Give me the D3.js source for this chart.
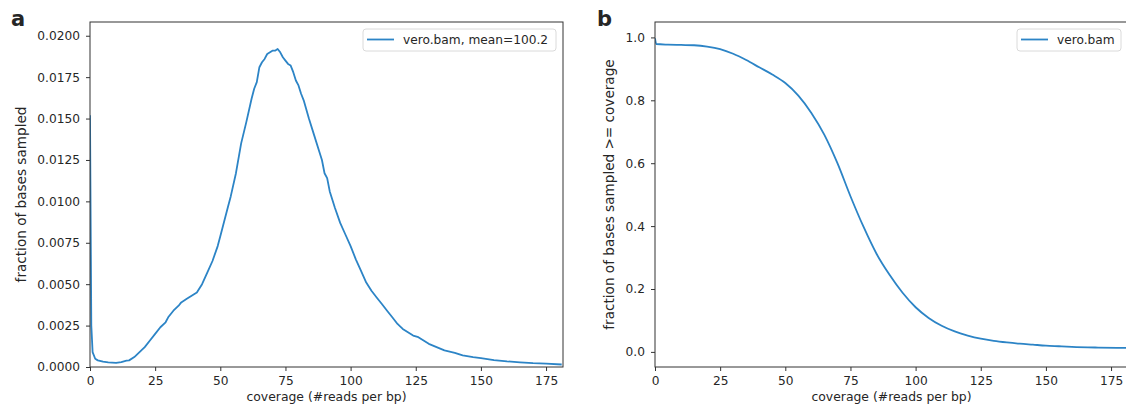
<!DOCTYPE html>
<html>
<head>
<meta charset="utf-8">
<script src="https://cdn.jsdelivr.net/npm/d3@7"></script>
<style>
  body { margin: 0; background: #fff; }
  text { font-family: "DejaVu Sans", sans-serif; fill: #262626; }
</style>
</head>
<body>
<svg id="chart" width="1126" height="408"></svg>
<script>
// panel a: coverage histogram
const covA = [0, 0.5, 1, 2, 3, 5, 7, 10, 12, 14, 15, 17, 19, 21, 23, 25, 27, 29, 30, 32, 34, 35, 37, 39, 41, 43, 45, 47, 49, 50, 51, 52, 53, 54, 56, 58, 60, 62, 63, 64, 65, 66, 67, 68, 70, 71, 72, 73, 74, 75, 76, 77, 78, 79, 80, 81, 82, 84, 86, 88, 89, 90, 91, 92, 94, 96, 98, 100, 102, 104, 106, 108, 110, 112, 114, 116, 118, 120, 122, 124, 126, 128, 130, 133, 136, 140, 143, 147, 150, 155, 160, 165, 170, 175, 181]
const fracA = [0.0152, 0.0025, 0.0009, 0.0005, 0.0004, 0.00032, 0.00028, 0.00025, 0.0003, 0.00038, 0.0004, 0.0006, 0.0009, 0.0012, 0.0016, 0.002, 0.0024, 0.0027, 0.003, 0.0034, 0.0037, 0.0039, 0.0041, 0.0043, 0.0045, 0.005, 0.0057, 0.0064, 0.0073, 0.0079, 0.0085, 0.0091, 0.0097, 0.0103, 0.0117, 0.0135, 0.0148, 0.0162, 0.0168, 0.0172, 0.0181, 0.0184, 0.0186, 0.0189, 0.0191, 0.0191, 0.0192, 0.019, 0.0187, 0.0185, 0.0183, 0.0182, 0.0178, 0.0173, 0.017, 0.0165, 0.0161, 0.015, 0.014, 0.013, 0.0125, 0.0117, 0.0114, 0.0106, 0.0096, 0.0087, 0.008, 0.0073, 0.0065, 0.0058, 0.0051, 0.0046, 0.0042, 0.0038, 0.0034, 0.003, 0.0026, 0.0023, 0.0021, 0.0019, 0.0018, 0.0016, 0.0014, 0.0012, 0.001, 0.00085, 0.0007, 0.0006, 0.00054, 0.00042, 0.00034, 0.00028, 0.00023, 0.0002, 0.00015]
// panel b: cumulative fraction
const covB = [0, 0.5, 5, 10, 15, 20, 25, 30, 35, 40, 45, 50, 55, 60, 65, 70, 75, 80, 85, 90, 95, 100, 105, 110, 115, 120, 125, 130, 135, 140, 145, 150, 155, 160, 170, 181]
const fracB = [0.997, 0.979, 0.977, 0.976, 0.975, 0.971, 0.963, 0.948, 0.928, 0.905, 0.882, 0.855, 0.815, 0.76, 0.69, 0.6, 0.495, 0.398, 0.312, 0.245, 0.188, 0.142, 0.108, 0.083, 0.065, 0.052, 0.042, 0.035, 0.03, 0.026, 0.023, 0.02, 0.018, 0.016, 0.0138, 0.0125]

const xTicks = [0, 25, 50, 75, 100, 125, 150, 175]
const yTicksA = [0, 0.0025, 0.005, 0.0075, 0.01, 0.0125, 0.015, 0.0175, 0.02]
const yTicksB = [0, 0.2, 0.4, 0.6, 0.8, 1.0]

const lineColor = '#2c84c6'
const svg = d3.select('#chart')

// draws one panel
const panel = function (opt) {
  const x = d3.scaleLinear().domain([0, 181.5]).range([opt.left, opt.left + 473])
  const y = d3.scaleLinear().domain(opt.yDomain).range([367, 22])
  const g = svg.append('g')

  const clipId = 'clip-' + opt.tag
  g.append('clipPath').attr('id', clipId)
    .append('rect').attr('x', x.range()[0]).attr('y', 22)
    .attr('width', 473).attr('height', 345)

  g.append('path')
    .datum(d3.zip(opt.xs, opt.ys))
    .attr('clip-path', `url(#${clipId})`)
    .attr('fill', 'none')
    .attr('stroke', lineColor)
    .attr('stroke-width', 1.8)
    .attr('stroke-linejoin', 'round')
    .attr('d', d3.line().curve(opt.curve).x(d => x(d[0])).y(d => y(d[1])))

  const ax = g.append('g').attr('transform', 'translate(0,367)')
    .call(d3.axisBottom(x).tickValues(xTicks).tickSize(4).tickPadding(5).tickFormat(d3.format('d')))
  const ay = g.append('g').attr('transform', `translate(${opt.left},0)`)
    .call(d3.axisLeft(y).tickValues(opt.yTicks).tickSize(4).tickPadding(6).tickFormat(d3.format(opt.fmt)))
  ;[ax, ay].forEach(a => {
    a.select('.domain').remove()
    a.selectAll('line').attr('stroke', '#333')
    a.selectAll('text').attr('font-size', 12.2).attr('fill', '#262626')
      .attr('font-family', '"DejaVu Sans", sans-serif')
  })

  g.append('rect')
    .attr('x', x.range()[0]).attr('y', 22)
    .attr('width', 473).attr('height', 345)
    .attr('fill', 'none').attr('stroke', '#333').attr('stroke-width', 1)

  g.append('text')
    .attr('x', opt.left + 236.5)
    .attr('y', 401)
    .attr('text-anchor', 'middle')
    .attr('font-size', 12.4)
    .text('coverage (#reads per bp)')

  g.append('text')
    .attr('transform', `translate(${opt.ylabelX},194.5) rotate(-90)`)
    .attr('text-anchor', 'middle')
    .attr('font-size', 13.6)
    .text(opt.ylabel)

  g.append('text')
    .attr('x', opt.tagX).attr('y', 26)
    .attr('font-family', '"Liberation Sans", Arial, sans-serif')
    .attr('font-weight', 'bold')
    .attr('font-size', 21)
    .attr('fill', '#000')
    .text(opt.tag)

  // legend
  const lg = g.append('g')
  lg.append('rect')
    .attr('x', opt.legX).attr('y', 29)
    .attr('width', opt.legW).attr('height', 22)
    .attr('rx', 3)
    .attr('fill', '#fff').attr('fill-opacity', 0.8)
    .attr('stroke', '#dadada').attr('stroke-width', 1)
  lg.append('line')
    .attr('x1', opt.legX + 4).attr('x2', opt.legX + 31)
    .attr('y1', 39.5).attr('y2', 39.5)
    .attr('stroke', lineColor).attr('stroke-width', 1.8)
  lg.append('text')
    .attr('x', opt.legX + 40).attr('y', 44)
    .attr('font-size', 12.2)
    .text(opt.legend)
}

panel({
  tag: 'a', tagX: 11, left: 90, xs: covA, ys: fracA, curve: d3.curveLinear,
  yDomain: [0, 0.02083], yTicks: yTicksA, fmt: '.4f',
  ylabel: 'fraction of bases sampled', ylabelX: 26,
  legend: 'vero.bam, mean=100.2', legX: 363, legW: 193
})
panel({
  tag: 'b', tagX: 597, left: 655, xs: covB, ys: fracB, curve: d3.curveMonotoneX,
  yDomain: [-0.048, 1.049], yTicks: yTicksB, fmt: '.1f',
  ylabel: 'fraction of bases sampled >= coverage', ylabelX: 614,
  legend: 'vero.bam', legX: 1017, legW: 104
})
</script>
</body>
</html>
